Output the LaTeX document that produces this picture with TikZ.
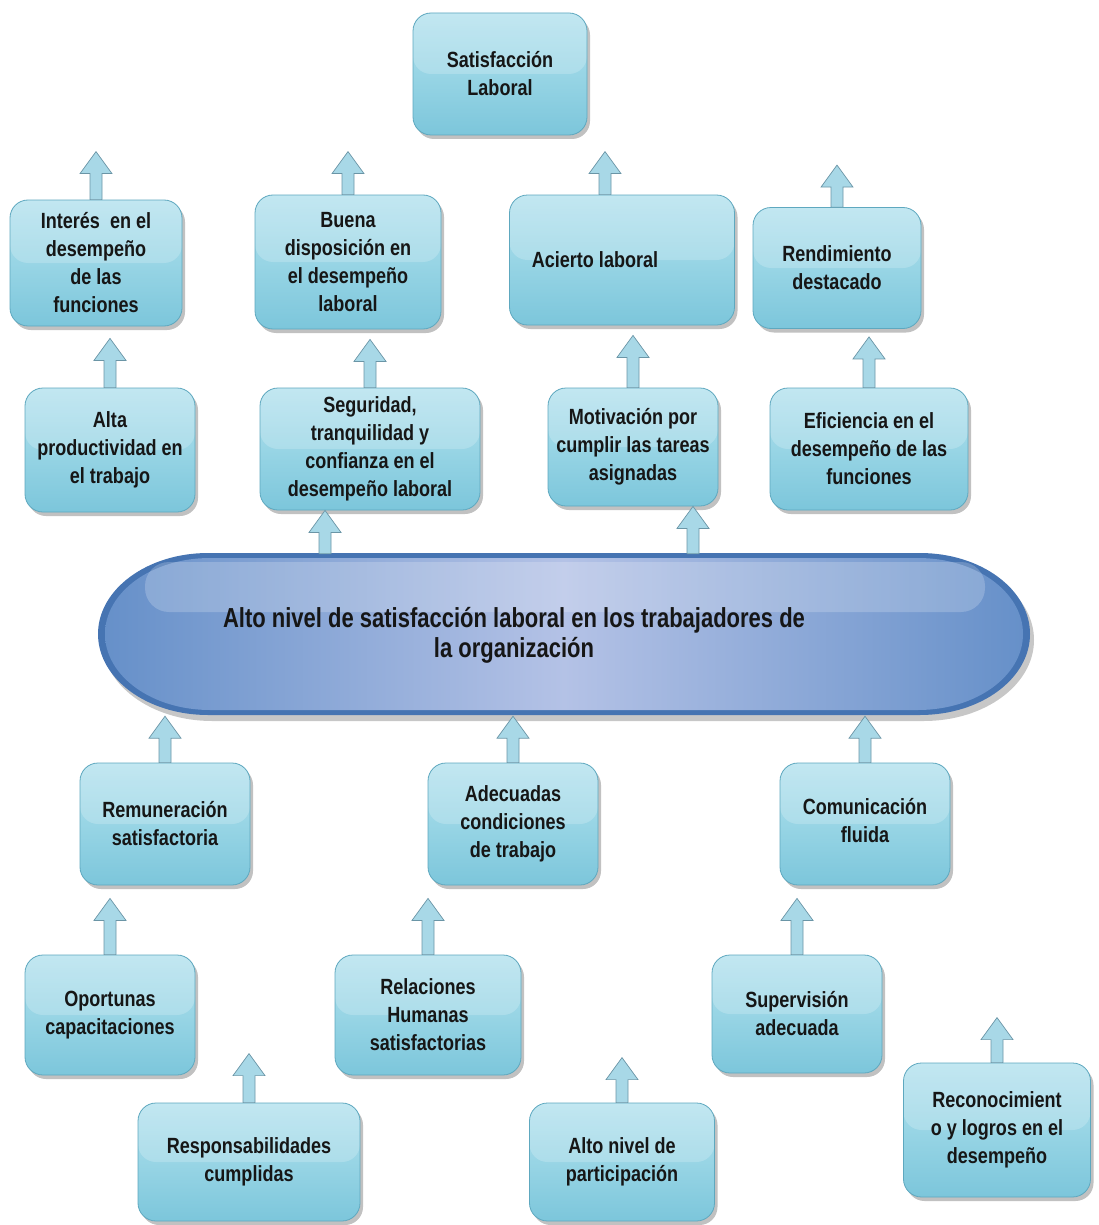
\documentclass[tikz,border=0pt]{standalone}
\usepackage{fontspec}
\setmainfont{Liberation Sans}[FakeStretch=0.82]
\newfontfamily\goalfont{Liberation Sans}[FakeStretch=0.8]
\usetikzlibrary{calc,shadows}

\definecolor{boxtop}{HTML}{B3E1EE}
\definecolor{boxmid}{HTML}{98D5E5}
\definecolor{boxbot}{HTML}{7CC6DB}
\definecolor{boxline}{HTML}{5EA8BF}
\definecolor{arrowfill}{HTML}{A8D8E7}
\definecolor{arrowline}{HTML}{6A95A6}
\definecolor{goalrim}{HTML}{4674B2}
\definecolor{goaldark}{HTML}{6690C9}
\definecolor{goallight}{HTML}{B4C2E6}
\definecolor{inktext}{HTML}{161616}

\tikzset{
  card/.style={rounded corners=18pt, draw=boxline, line width=0.8pt,
    top color=boxtop, bottom color=boxbot, middle color=boxmid,
    drop shadow={shadow xshift=3pt, shadow yshift=-4pt, opacity=0.35, fill=black!70},
    path picture={\fill[white,opacity=0.2]
      (path picture bounding box.north west) rectangle (path picture bounding box.east);},
    align=center, text=inktext, inner sep=3pt,
    font=\bfseries\fontsize{22}{28}\selectfont},
  goaltext/.style={align=center, text=inktext, inner sep=0pt,
    font=\goalfont\bfseries\fontsize{27.5}{30}\selectfont},
  % block arrow pointing up: shaft rises from the start, tip at the target's height
  barrow/.style={draw=arrowline, fill=arrowfill, line width=0.7pt, line join=miter,
    to path={let \p1=(\tikztostart), \p2=(\tikztotarget) in
      (\x1-6pt,\y1) -- (\x1-6pt,\y2-22pt) -- (\x1-16pt,\y2-22pt) -- (\x1,\y2)
      -- (\x1+16pt,\y2-22pt) -- (\x1+6pt,\y2-22pt) -- (\x1+6pt,\y1) -- cycle}}
}

\begin{document}
\begin{tikzpicture}[x=1pt, y=-1pt]
\useasboundingbox (0,0) rectangle (1099,1225);

% ---- top rows ----
\node[card, minimum width=174, minimum height=122] (sat) at (500,74) {Satisfacción\\Laboral};

\node[card, minimum width=172, minimum height=126] (interes) at (96,263) {Interés~~en el\\desempeño\\de las\\funciones};
\node[card, minimum width=186, minimum height=134] (buena) at (348,262) {Buena\\disposición en\\el desempeño\\laboral};
\node[card, minimum width=225, minimum height=130] (acierto) at (622,260) {Acierto laboral\hspace*{54pt}};
\node[card, minimum width=168, minimum height=121] (rend) at (837,268) {Rendimiento\\destacado};

\node[card, minimum width=170, minimum height=124] (alta) at (110,450) {Alta\\productividad en\\el trabajo};
\node[card, minimum width=220, minimum height=122] (seg) at (370,449) {Seguridad,\\tranquilidad y\\confianza en el\\desempeño laboral};
\node[card, minimum width=170, minimum height=118] (motiv) at (633,447) {Motivación por\\cumplir las tareas\\asignadas};
\node[card, minimum width=198, minimum height=122] (efic) at (869,449) {Eficiencia en el\\desempeño de las\\funciones};

% ---- central goal ----
\fill[black, opacity=0.22] (212,559) -- (924,559) arc[start angle=-90, end angle=90, x radius=110, y radius=81]
  -- (212,721) arc[start angle=90, end angle=270, x radius=110, y radius=81] -- cycle;
\fill[goalrim] (208,553) -- (920,553) arc[start angle=-90, end angle=90, x radius=110, y radius=81]
  -- (208,715) arc[start angle=90, end angle=270, x radius=110, y radius=81] -- cycle;
\shade[left color=goaldark, right color=goaldark, middle color=goallight]
  (210,558) -- (918,558) arc[start angle=-90, end angle=90, x radius=105, y radius=76]
  -- (210,710) arc[start angle=90, end angle=270, x radius=105, y radius=76] -- cycle;
\fill[white, opacity=0.2, rounded corners=24pt] (145,562) rectangle (985,612);
\node[goaltext, minimum width=932, minimum height=162] (goal) at (514,635)
  {Alto nivel de satisfacción laboral en los trabajadores de\\la organización};

% ---- lower rows ----
\node[card, minimum width=170, minimum height=122] (remu) at (165,824) {Remuneración\\satisfactoria};
\node[card, minimum width=170, minimum height=122] (adec) at (513,824) {Adecuadas\\condiciones\\de trabajo};
\node[card, minimum width=170, minimum height=122, text depth=8pt] (comu) at (865,824) {Comunicación\\fluida};

\node[card, minimum width=170, minimum height=120] (oport) at (110,1015) {Oportunas\\capacitaciones};
\node[card, minimum width=186, minimum height=120] (relac) at (428,1015) {Relaciones\\Humanas\\satisfactorias};
\node[card, minimum width=170, minimum height=118] (superv) at (797,1014) {Supervisión\\adecuada};

\node[card, minimum width=222, minimum height=118] (resp) at (249,1162) {Responsabilidades\\cumplidas};
\node[card, minimum width=185, minimum height=118] (part) at (622,1162) {Alto nivel de\\participación};
\node[card, minimum width=187, minimum height=134] (recon) at (997,1130) {Reconocimient\\o y logros en el\\desempeño};

% ---- block arrows ----
\draw[barrow] (interes.north) to ++(0,-48);
\draw[barrow] (buena.north) to ++(0,-43);
\draw[barrow] ($(acierto.north)+(-17,0)$) to ++(0,-43);
\draw[barrow] (rend.north) to ++(0,-42);

\draw[barrow] (alta.north) to ($(interes.south)+(0,12)$);
\draw[barrow] (seg.north) to ($(buena.south)+(0,10)$);
\draw[barrow] (motiv.north) to ($(acierto.south)+(0,10)$);
\draw[barrow] (efic.north) to ($(rend.south)+(0,8)$);

\draw[barrow] ($(goal.north)+(-189,0)$) to (seg.south);
\draw[barrow] ($(goal.north)+(179,0)$) to (motiv.south);

\draw[barrow] (remu.north) to (goal.south);
\draw[barrow] (adec.north) to (goal.south);
\draw[barrow] (comu.north) to (goal.south);

\draw[barrow] (oport.north) to ($(remu.south)+(0,13)$);
\draw[barrow] (relac.north) to ($(adec.south)+(0,13)$);
\draw[barrow] (superv.north) to ($(comu.south)+(0,13)$);

\draw[barrow] (resp.north) to ++(0,-49);
\draw[barrow] (part.north) to ++(0,-45);
\draw[barrow] (recon.north) to ++(0,-45);
\end{tikzpicture}
\end{document}
